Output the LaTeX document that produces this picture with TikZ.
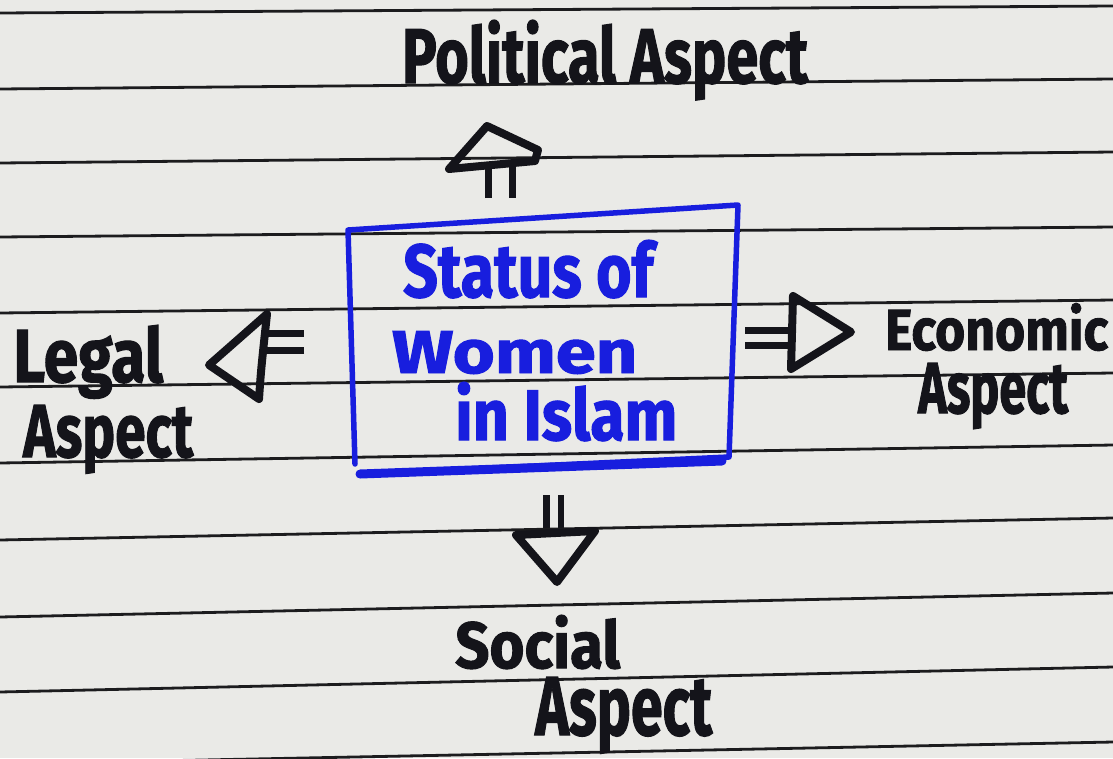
\documentclass[tikz,border=0pt]{standalone}
\usepackage{fontspec}
\usepackage{graphicx}
\newfontfamily\hw{Fira Sans}[BoldFeatures={FakeBold=1.6}]
\definecolor{paper}{RGB}{234,234,231}
\definecolor{ink}{RGB}{20,20,26}
\definecolor{pen}{RGB}{24,30,222}
\definecolor{rulecol}{RGB}{28,28,30}
\newcommand\hwtext[3]{\resizebox{#1pt}{#2pt}{\hw\bfseries #3}}
\begin{document}
\begin{tikzpicture}[x=1pt,y=-1pt,
  lbl/.style={anchor=base west, inner sep=0pt, text=ink},
  blbl/.style={anchor=base west, inner sep=0pt, text=pen},
  ruling/.style={draw=rulecol, line width=2.8pt},
  shaft/.style={draw=ink, double=paper, line width=7pt},
  arrowhead/.style={draw=ink, line width=8pt, line join=round, line cap=round},
  frame/.style={draw=pen, line width=5.5pt, line join=round, line cap=round}]
\fill[paper] (0,0) rectangle (1113,758);
\useasboundingbox (0,0) rectangle (1113,758);

% connector end points
\coordinate (u0) at (500,198);
\coordinate (u1) at (500,165);
\coordinate (l0) at (304,341.5);
\coordinate (l1) at (266,341.5);
\coordinate (r0) at (745,337.5);
\coordinate (r1) at (791,337.5);
\coordinate (d0) at (553.5,495);
\coordinate (d1) at (553.5,534);

% shafts (double lines)
\draw[shaft, double distance=17pt] (u0) -- (u1);
\draw[shaft, double distance=10pt] (l0) -- (l1);
\draw[shaft, double distance=8pt] (r0) -- (r1);
\draw[shaft, line width=6.5pt, double distance=8pt] (d0) -- (d1);

% ruled paper
\foreach \a/\b in {13/6, 89/79, 163/152, 237/227, 313/300, 387/373, 463/445, 540/518, 617/593, 692/667, 764/742}
  \draw[ruling] (0,\a) -- (1113,\b);

% box frame
\coordinate (b1) at (348,230);
\coordinate (b2) at (738,205);
\coordinate (b3) at (729,457);
\coordinate (b4) at (360,474);
\draw[frame] (355,464) -- (b1) -- (b2) -- (b3) -- (b4);
\draw[pen, line width=9pt, line cap=round] (b4) -- (722,461);

% arrow heads
\draw[arrowhead] (449,169) -- (487,126) -- (538,150) -- (535,161) -- cycle;
\draw[arrowhead] (267,314) -- (209,365) -- (259,399) .. controls (261,370) .. cycle;
\draw[arrowhead] (793,296) -- (851,332) -- (791,369) -- cycle;
\draw[arrowhead] (516,535) -- (595,531) -- (557,582) -- cycle;

% box text
\node[blbl] (t1) at (403,297) {\hwtext{250}{57}{Status of}};
\node[blbl] (t2) at (392,373) {\hwtext{245}{42}{Women}};
\node[blbl] (t3) at (455,440) {\hwtext{222}{58}{in Islam}};

% labels
\node[lbl] (pol) at (402,83) {\hwtext{406}{63}{Political Aspect}};
\node[lbl] (legal) at (13,382) {\hwtext{150}{57}{Legal}};
\node[lbl] (legalb) at (23,457) {\hwtext{170}{52}{Aspect}};
\node[lbl] (econ) at (885,350) {\hwtext{223}{47}{Economic}};
\node[lbl] (econb) at (918,413) {\hwtext{150}{50}{Aspect}};
\node[lbl] (soc) at (455,668) {\hwtext{165}{53}{Social}};
\node[lbl] (socb) at (535,735) {\hwtext{177}{58}{Aspect}};
\end{tikzpicture}
\end{document}
